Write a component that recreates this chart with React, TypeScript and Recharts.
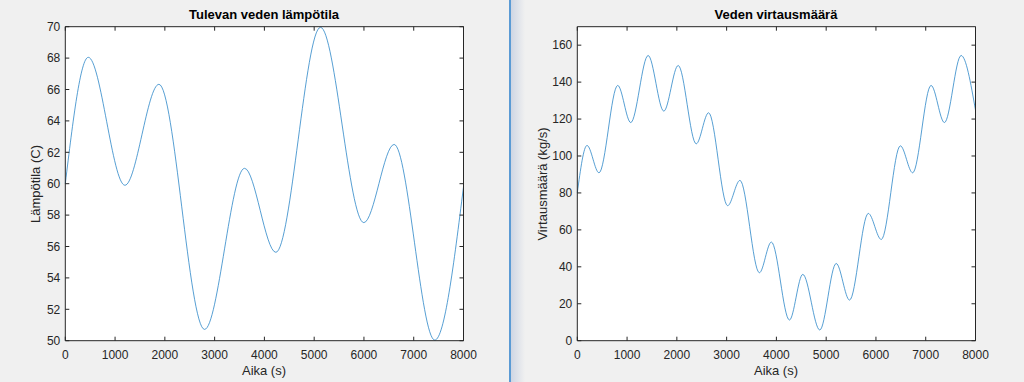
import { CartesianGrid, Line, LineChart, XAxis, YAxis } from 'recharts'

// temperature curve, read at its turning points
const tempTime = [0, 462, 1198, 1881, 2798, 3601, 4230, 5127, 5997, 6606, 7423, 8000]
const tempValue = [60, 68.05, 59.9, 66.33, 50.72, 60.98, 55.63, 69.96, 57.52, 62.5, 50.04, 59.8]

// flow rate curve
const flowTime = [
  0, 195, 436, 812, 1074, 1423, 1738, 2027, 2389, 2638, 3020, 3268, 3658, 3899,
  4262, 4530, 4872, 5201, 5470, 5846, 6107, 6490, 6738, 7107, 7376, 7711, 8000,
]
const flowValue = [
  80.1, 105.7, 90.9, 138.2, 118.1, 154.4, 124.3, 149.0, 106.6, 123.4, 73.1, 86.8,
  36.8, 53.4, 11.2, 35.9, 5.8, 41.8, 22.0, 68.9, 54.8, 105.5, 90.9, 138.2, 118.1,
  154.4, 124.8,
]

const timeTicks = [0, 1000, 2000, 3000, 4000, 5000, 6000, 7000, 8000]
const tempTicks = [50, 52, 54, 56, 58, 60, 62, 64, 66, 68, 70]
const flowTicks = [0, 20, 40, 60, 80, 100, 120, 140, 160]

const FONT = '"Liberation Sans", Arial, Helvetica, sans-serif'
const AXIS = '#262626'

type PanelProps = {
  left: number
  title: string
  yLabel: string
  times: number[]
  values: number[]
  yDomain: [number, number]
  yTicks: number[]
  labelX: number
}

function Panel(props: PanelProps) {
  const { left, title, yLabel, times, values, yDomain, yTicks, labelX } = props
  const data = times.map((t, i) => ({ t, v: values[i] }))
  const blank = () => ''

  return (
    <div style={{ position: 'absolute', left, top: 0, width: 512, height: 382 }}>
      <LineChart
        width={512}
        height={382}
        data={data}
        margin={{ top: 25.7, right: 47.5, left: 25.3, bottom: 16.3 }}
      >
        <CartesianGrid fill='#ffffff' stroke='none' horizontal={false} vertical={false} />
        <XAxis
          dataKey='t'
          type='number'
          domain={[0, 8000]}
          ticks={timeTicks}
          interval={0}
          height={25}
          stroke={AXIS}
          tickSize={-4}
          tickMargin={14}
          tick={{ fill: AXIS, fontSize: 12, fontFamily: FONT }}
        />
        <XAxis
          xAxisId='top'
          orientation='top'
          dataKey='t'
          type='number'
          domain={[0, 8000]}
          ticks={timeTicks}
          interval={0}
          height={1}
          stroke={AXIS}
          tickSize={-4}
          tickFormatter={blank}
        />
        <YAxis
          type='number'
          domain={yDomain}
          ticks={yTicks}
          interval={0}
          width={40}
          stroke={AXIS}
          tickSize={-4}
          tickMargin={9}
          tick={{ fill: AXIS, fontSize: 12, fontFamily: FONT }}
        />
        <YAxis
          yAxisId='right'
          orientation='right'
          type='number'
          domain={yDomain}
          ticks={yTicks}
          interval={0}
          width={1}
          stroke={AXIS}
          tickSize={-4}
          tickFormatter={blank}
        />
        {/* invisible copy so the top and right box axes get a scale */}
        <Line
          xAxisId='top'
          yAxisId='right'
          dataKey='v'
          stroke='none'
          dot={false}
          activeDot={false}
          legendType='none'
          isAnimationActive={false}
        />
        <Line
          type='monotone'
          dataKey='v'
          stroke='#1f7fc4'
          strokeWidth={0.75}
          dot={false}
          isAnimationActive={false}
        />
      </LineChart>
      <div
        style={{
          position: 'absolute',
          top: 7,
          left: 65,
          width: 398,
          textAlign: 'center',
          fontFamily: FONT,
          fontWeight: 'bold',
          fontSize: 13,
          color: '#000',
        }}
      >
        {title}
      </div>
      <div
        style={{
          position: 'absolute',
          top: 363,
          left: 65,
          width: 398,
          textAlign: 'center',
          fontFamily: FONT,
          fontSize: 13,
          color: AXIS,
        }}
      >
        Aika (s)
      </div>
      <div
        style={{
          position: 'absolute',
          top: 184,
          left: labelX,
          width: 0,
          height: 0,
        }}
      >
        <div
          style={{
            position: 'absolute',
            transform: 'translate(-50%, -50%) rotate(-90deg)',
            whiteSpace: 'nowrap',
            fontFamily: FONT,
            fontSize: 13,
            color: AXIS,
          }}
        >
          {yLabel}
        </div>
      </div>
    </div>
  )
}

export default function App() {
  return (
    <div
      style={{
        position: 'fixed',
        left: 0,
        top: 0,
        width: 1024,
        height: 382,
        background: '#f0f0f0',
        overflow: 'hidden',
      }}
    >
      <Panel
        left={0}
        title='Tulevan veden lämpötila'
        yLabel='Lämpötila (C)'
        times={tempTime}
        values={tempValue}
        yDomain={[50, 70]}
        yTicks={tempTicks}
        labelX={35}
      />
      <div style={{ position: 'absolute', left: 509, top: 0, width: 2, height: 382, background: '#5b9bd5' }} />
      <div
        style={{
          position: 'absolute',
          left: 511,
          top: 0,
          width: 14,
          height: 382,
          background: 'linear-gradient(to right, #cfd6e4, #f0f0f0)',
        }}
      />
      <Panel
        left={512}
        title='Veden virtausmäärä'
        yLabel='Virtausmäärä (kg/s)'
        times={flowTime}
        values={flowValue}
        yDomain={[0, 170]}
        yTicks={flowTicks}
        labelX={30}
      />
    </div>
  )
}
